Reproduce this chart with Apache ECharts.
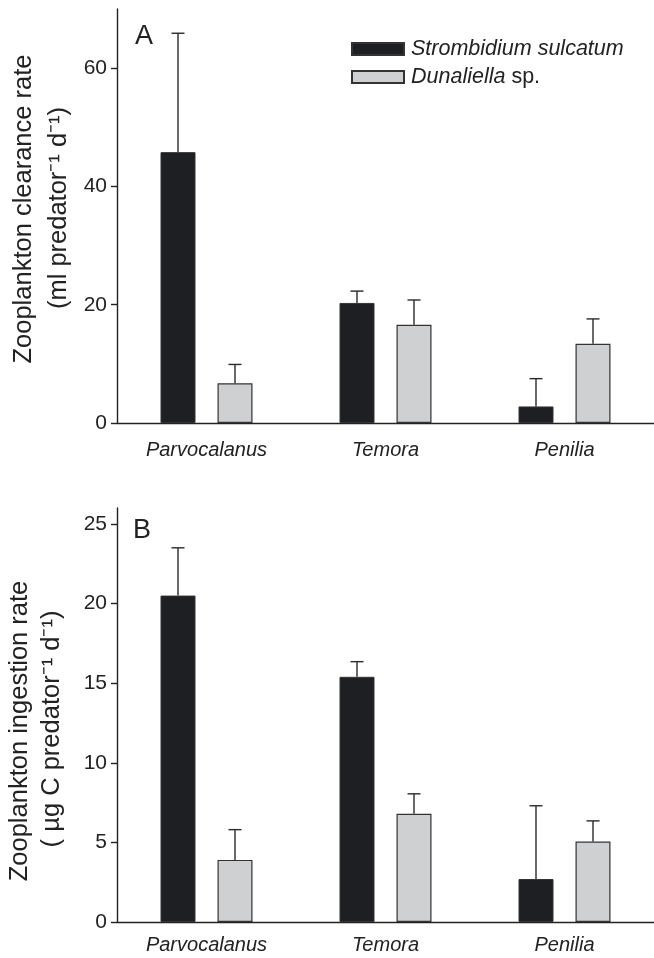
<!DOCTYPE html>
<html>
<head>
<meta charset="utf-8">
<script src="https://cdn.jsdelivr.net/npm/echarts@6/dist/echarts.min.js"></script>
<style>
html,body{margin:0;padding:0;background:#fff;}
#chart{width:654px;height:958px;}
</style>
</head>
<body>
<div id="chart"></div>
<script>
// ---- data ----
const categories = ['Parvocalanus', 'Temora', 'Penilia'];
const seriesNames = ['Strombidium sulcatum', 'Dunaliella sp.'];
// Panel A: clearance rate (ml predator-1 d-1)
const clearanceStrombidium = [45.8, 20.3, 2.8];
const clearanceStrombidiumErr = [20.1, 2.0, 4.7];
const clearanceDunaliella = [6.7, 16.6, 13.4];
const clearanceDunaliellaErr = [3.2, 4.2, 4.2];
// Panel B: ingestion rate (ug C predator-1 d-1)
const ingestionStrombidium = [20.5, 15.4, 2.7];
const ingestionStrombidiumErr = [3.0, 0.95, 4.6];
const ingestionDunaliella = [3.9, 6.8, 5.05];
const ingestionDunaliellaErr = [1.9, 1.25, 1.3];
// tick labels
const ticksA = [0, 20, 40, 60];
const ticksB = [0, 5, 10, 15, 20, 25];

// ---- style ----
const FONT = "'Liberation Sans', Arial, Helvetica, sans-serif";
const TXT = '#222';
const DARK = '#1e1f22';
const LIGHT = '#cfd0d2';
const BAR_W = 35;
const BAR_GAP_PX = 22;
const BAR_OFFSET = (BAR_W + BAR_GAP_PX) / 2;

const chart = echarts.init(document.getElementById('chart'), null, {renderer: 'canvas'});

function errData(vals, errs) {
  return vals.map((v, i) => [i, v, errs[i]]);
}
function errRender(sign) {
  return function (params, api) {
    const idx = api.value(0), v = api.value(1), e = api.value(2);
    const p0 = api.coord([idx, v]);
    const p1 = api.coord([idx, v + e]);
    const x = p0[0] + sign * BAR_OFFSET;
    const st = {stroke: '#2a2a2a', lineWidth: 1.4};
    return {
      type: 'group',
      children: [
        {type: 'line', shape: {x1: x, y1: p0[1], x2: x, y2: p1[1]}, style: st},
        {type: 'line', shape: {x1: x - 6.5, y1: p1[1], x2: x + 6.5, y2: p1[1]}, style: st}
      ]
    };
  };
}

const axisLineStyle = {color: TXT, width: 1.4};

function xAxis(gridIndex, margin) {
  return {
    type: 'category', gridIndex, data: categories,
    axisLine: {lineStyle: axisLineStyle},
    axisTick: {alignWithLabel: true, length: 5, lineStyle: axisLineStyle},
    axisLabel: {fontFamily: FONT, fontSize: 20, fontStyle: 'italic', color: TXT, margin}
  };
}
function yAxis(gridIndex, max, ticks) {
  return {
    type: 'value', gridIndex, min: 0, max,
    splitLine: {show: false},
    axisLine: {show: true, lineStyle: axisLineStyle},
    axisTick: {show: true, length: 6, lineStyle: axisLineStyle, customValues: ticks},
    axisLabel: {fontFamily: FONT, fontSize: 21, color: TXT, margin: 10, customValues: ticks}
  };
}

const barBase = {
  type: 'bar', barWidth: BAR_W, barGap: (BAR_GAP_PX / BAR_W * 100) + '%'
};

function nameText(x, y, text) {
  return {
    type: 'text', x, y, rotation: Math.PI / 2,
    style: {text, fontFamily: FONT, fontSize: 25.5, fill: TXT, align: 'center', verticalAlign: 'middle'}
  };
}

const option = {
  backgroundColor: '#fff',
  animation: false,
  grid: [
    {left: 117, top: 9, width: 562.8, height: 414},
    {left: 117, top: 508, width: 562.8, height: 414}
  ],
  legend: {
    data: seriesNames,
    orient: 'vertical',
    left: 346, top: 33,
    itemWidth: 52, itemHeight: 12, itemGap: 6,
    icon: 'rect',
    formatter: n => n === 'Dunaliella sp.' ? '{i|Dunaliella} sp.' : '{i|' + n + '}',
    textStyle: {
      fontFamily: FONT, fontSize: 21.5, color: TXT, lineHeight: 21, padding: [0, 0, 0, 2],
      rich: {i: {fontFamily: FONT, fontSize: 21.5, fontStyle: 'italic', color: TXT}}
    }
  },
  xAxis: [xAxis(0, 17), xAxis(1, 13)],
  yAxis: [yAxis(0, 70, ticksA), yAxis(1, 26, ticksB)],
  series: [
    Object.assign({}, barBase, {name: seriesNames[0], xAxisIndex: 0, yAxisIndex: 0, data: clearanceStrombidium,
      itemStyle: {color: DARK, borderColor: '#333', borderWidth: 1}}),
    Object.assign({}, barBase, {name: seriesNames[1], xAxisIndex: 0, yAxisIndex: 0, data: clearanceDunaliella,
      itemStyle: {color: LIGHT, borderColor: '#333', borderWidth: 1.2}}),
    Object.assign({}, barBase, {name: seriesNames[0], xAxisIndex: 1, yAxisIndex: 1, data: ingestionStrombidium,
      itemStyle: {color: DARK, borderColor: '#333', borderWidth: 1}}),
    Object.assign({}, barBase, {name: seriesNames[1], xAxisIndex: 1, yAxisIndex: 1, data: ingestionDunaliella,
      itemStyle: {color: LIGHT, borderColor: '#333', borderWidth: 1.2}}),
    {type: 'custom', name: 'errA1', xAxisIndex: 0, yAxisIndex: 0, z: 3, renderItem: errRender(-1),
      data: errData(clearanceStrombidium, clearanceStrombidiumErr), encode: {x: 0, y: 1}},
    {type: 'custom', name: 'errA2', xAxisIndex: 0, yAxisIndex: 0, z: 3, renderItem: errRender(1),
      data: errData(clearanceDunaliella, clearanceDunaliellaErr), encode: {x: 0, y: 1}},
    {type: 'custom', name: 'errB1', xAxisIndex: 1, yAxisIndex: 1, z: 3, renderItem: errRender(-1),
      data: errData(ingestionStrombidium, ingestionStrombidiumErr), encode: {x: 0, y: 1}},
    {type: 'custom', name: 'errB2', xAxisIndex: 1, yAxisIndex: 1, z: 3, renderItem: errRender(1),
      data: errData(ingestionDunaliella, ingestionDunaliellaErr), encode: {x: 0, y: 1}}
  ],
  graphic: [
    {type: 'text', x: 135, y: 23, style: {text: 'A', fontFamily: FONT, fontSize: 27, fill: TXT}},
    {type: 'text', x: 133, y: 517, style: {text: 'B', fontFamily: FONT, fontSize: 27, fill: TXT}},
    nameText(24, 209, 'Zooplankton clearance rate'),
    nameText(59, 208, '(ml predator\u207B\u00B9 d\u207B\u00B9)'),
    nameText(20, 731, 'Zooplankton ingestion rate'),
    nameText(52, 729, '( \u00B5g C predator\u207B\u00B9 d\u207B\u00B9)')
  ]
};
chart.setOption(option);
</script>
</body>
</html>
